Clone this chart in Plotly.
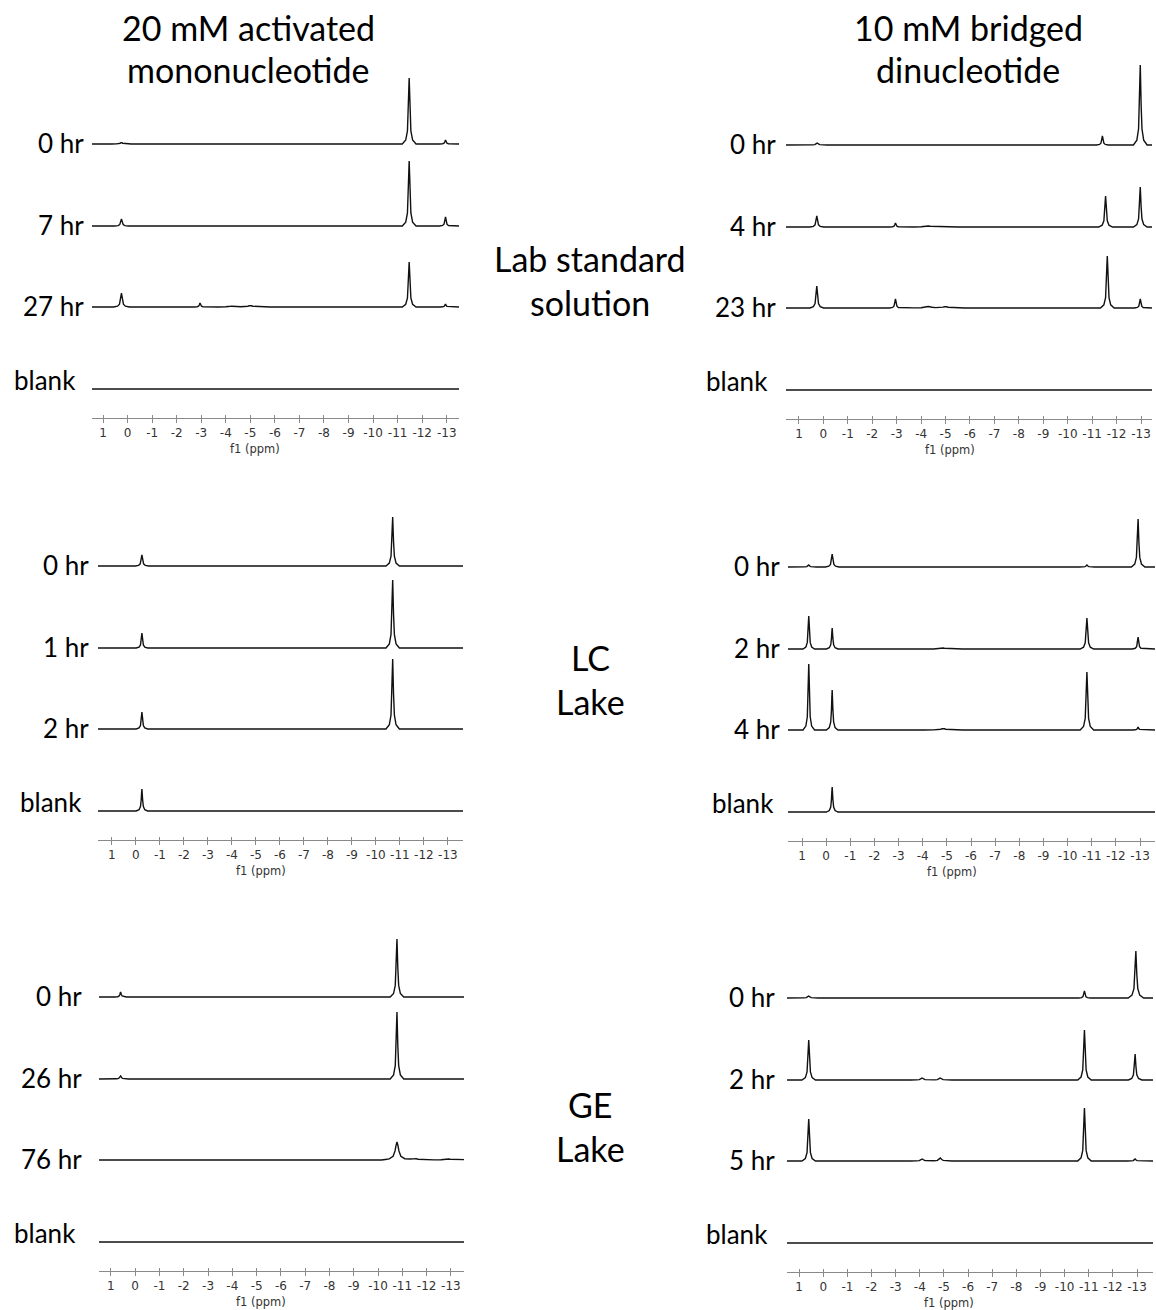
import numpy as np
import plotly.graph_objects as go

W, H = 1156, 1310

# ---------------- data (ppm, height, half-width) ----------------
lab_mono_labels = ["0 hr", "7 hr", "27 hr", "blank"]
lab_mono_peaks = [
    [(0.25, 1.5, 0.05), (-11.47, 66, 0.035), (-12.95, 4, 0.03)],
    [(0.25, 7, 0.035), (-11.47, 65, 0.035), (-12.95, 9, 0.03)],
    [(0.25, 14, 0.04), (-2.95, 4, 0.03), (-4.3, 1, 0.15), (-5.0, 1.5, 0.1), (-11.47, 45, 0.035), (-12.95, 3, 0.03)],
    [],
]
lab_di_labels = ["0 hr", "4 hr", "23 hr", "blank"]
lab_di_peaks = [
    [(0.25, 2, 0.05), (-11.42, 9, 0.03), (-12.97, 80, 0.035)],
    [(0.27, 11, 0.035), (-2.95, 4, 0.03), (-4.3, 1, 0.15), (-11.55, 31, 0.035), (-12.97, 40, 0.035)],
    [(0.27, 22, 0.035), (-2.95, 9, 0.03), (-4.3, 1.5, 0.15), (-5.0, 1.5, 0.1), (-11.62, 52, 0.035), (-12.97, 9, 0.03)],
    [],
]
lc_mono_labels = ["0 hr", "1 hr", "2 hr", "blank"]
lc_mono_peaks = [
    [(-0.25, 11, 0.035), (-10.7, 49, 0.035)],
    [(-0.25, 15, 0.03), (-10.7, 68, 0.035)],
    [(-0.25, 17, 0.03), (-10.7, 70, 0.035)],
    [(-0.25, 22, 0.03)],
]
lc_di_labels = ["0 hr", "2 hr", "4 hr", "blank"]
lc_di_peaks = [
    [(0.72, 2, 0.04), (-0.25, 13, 0.035), (-10.8, 2, 0.04), (-12.92, 48, 0.035)],
    [(0.72, 33, 0.03), (-0.25, 21, 0.03), (-4.85, 1, 0.1), (-10.8, 31, 0.035), (-12.92, 12, 0.03)],
    [(0.72, 66, 0.03), (-0.25, 40, 0.03), (-4.85, 1.5, 0.1), (-10.8, 58, 0.035), (-12.92, 3, 0.03)],
    [(-0.25, 25, 0.03)],
]
ge_mono_labels = ["0 hr", "26 hr", "76 hr", "blank"]
ge_mono_peaks = [
    [(0.6, 5, 0.03), (-10.78, 58, 0.035)],
    [(0.6, 3, 0.04), (-10.78, 67, 0.035)],
    [(-10.78, 18, 0.08), (-11.5, 1.5, 0.15), (-12.9, 1, 0.15)],
    [],
]
ge_di_labels = ["0 hr", "2 hr", "5 hr", "blank"]
ge_di_peaks = [
    [(0.6, 2, 0.05), (-10.82, 7, 0.03), (-12.95, 47, 0.04)],
    [(0.6, 40, 0.035), (-4.1, 2, 0.06), (-4.85, 2, 0.06), (-10.82, 50, 0.035), (-12.92, 26, 0.035)],
    [(0.6, 42, 0.035), (-4.1, 2, 0.06), (-4.85, 3, 0.06), (-10.82, 53, 0.035), (-12.92, 2, 0.04)],
    [],
]
tick_values = list(range(1, -14, -1))
tick_text = [str(v) for v in tick_values]

col_titles = [("20 mM activated", "mononucleotide"), ("10 mM bridged", "dinucleotide")]
row_titles = [("Lab standard", "solution"), ("LC", "Lake"), ("GE", "Lake")]

# ---------------- layout constants (pixels) ----------------
panels = [
    dict(labels=lab_mono_labels, peaks=lab_mono_peaks, px=(92, 459), axis_y=418, rng=(1.45, -13.5), lab_r=(86, 78)),
    dict(labels=lab_di_labels, peaks=lab_di_peaks, px=(786, 1152), axis_y=419, rng=(1.53, -13.45), lab_r=(778, 770)),
    dict(labels=lc_mono_labels, peaks=lc_mono_peaks, px=(98, 463), axis_y=840, rng=(1.58, -13.63), lab_r=(91, 84)),
    dict(labels=lc_di_labels, peaks=lc_di_peaks, px=(788, 1155), axis_y=841, rng=(1.58, -13.62), lab_r=(782, 776)),
    dict(labels=ge_mono_labels, peaks=ge_mono_peaks, px=(99, 464), axis_y=1271, rng=(1.49, -13.54), lab_r=(84, 78)),
    dict(labels=ge_di_labels, peaks=ge_di_peaks, px=(787, 1153), axis_y=1272, rng=(1.5, -13.66), lab_r=(777, 770)),
]
offsets = [274, 192, 111, 29]
YSPAN = 360
shape_u = [-8, -4, -2, -1, -0.5, 0, 0.5, 1, 2, 4, 8]
shape_f = [0.0, 0.06, 0.2, 0.5, 0.8, 1.0, 0.8, 0.5, 0.2, 0.06, 0.0]

TEXT_FONT = "Lato"
fig = go.Figure()
annotations = []
layout = {}

def spectrum(peaks, lo, hi):
    xs = {lo, hi}
    for (c, h, w) in peaks:
        for u in shape_u:
            xs.add(c + u * w)
    xs = np.array(sorted(xs))
    ys = np.zeros_like(xs)
    for (c, h, w) in peaks:
        px = c + np.array(shape_u) * w
        ys = ys + np.interp(xs, px, h * np.array(shape_f), left=0.0, right=0.0)
    return xs.tolist(), ys.tolist()

for i, p in enumerate(panels):
    n = i + 1
    xa = f"xaxis{n}"
    ya = f"yaxis{n}"
    xref = f"x{n}"
    yref = f"y{n}"
    dx = [p["px"][0] / W, p["px"][1] / W]
    dy = [1 - p["axis_y"] / H, 1 - (p["axis_y"] - YSPAN) / H]
    for k, pk in enumerate(p["peaks"]):
        xs, ys = spectrum(pk, min(p["rng"]), max(p["rng"]))
        fig.add_trace(go.Scatter(x=xs, y=[v + offsets[k] for v in ys], mode="lines",
                                 line=dict(color="#111", width=1.4), xaxis=xref, yaxis=yref,
                                 showlegend=False, hoverinfo="skip"))
    layout[xa] = dict(domain=dx, range=list(p["rng"]), anchor=yref, showgrid=False, zeroline=False,
                      showline=True, linecolor="#8a8a8a", linewidth=1,
                      ticks="outside", ticklen=4, tickcolor="#8a8a8a", tickwidth=1,
                      tickvals=tick_values, ticktext=tick_text,
                      tickfont=dict(family="DejaVu Sans", size=12, color="#333"))
    layout[ya] = dict(domain=dy, range=[0, YSPAN], anchor=xref, visible=False, fixedrange=True)
    # overlay axis for upward tick halves
    m = n + 6
    layout[f"xaxis{m}"] = dict(overlaying=xref, range=list(p["rng"]), anchor=yref, showgrid=False,
                               zeroline=False, showline=False, ticks="inside", ticklen=3,
                               tickcolor="#8a8a8a", tickwidth=1, tickvals=tick_values,
                               showticklabels=False, side="bottom")
    fig.add_trace(go.Scatter(x=[p["rng"][0]], y=[-10], mode="markers", marker=dict(opacity=0),
                             xaxis=f"x{m}", yaxis=yref, showlegend=False, hoverinfo="skip"))
    # f1 (ppm)
    annotations.append(dict(text="f1 (ppm)", x=-5.2, xref=xref, y=1 - (p["axis_y"] + 31) / H,
                            yref="paper", showarrow=False, xanchor="center", yanchor="middle",
                            font=dict(family="DejaVu Sans", size=11.5, color="#333")))
    # row labels
    for k, lab in enumerate(p["labels"]):
        base = p["axis_y"] - offsets[k]
        if lab == "blank":
            xr, yc = p["lab_r"][1], base - 9
        else:
            xr, yc = p["lab_r"][0], base - 1
        annotations.append(dict(text=lab, x=xr / W, xref="paper", y=1 - yc / H, yref="paper",
                                showarrow=False, xanchor="right", yanchor="middle",
                                font=dict(family=TEXT_FONT, size=26, color="black")))

# column titles
for (l1, l2), cx in zip(col_titles, [248, 968]):
    for txt, cy in [(l1, 27), (l2, 70)]:
        annotations.append(dict(text=txt, x=cx / W, xref="paper", y=1 - cy / H, yref="paper",
                                showarrow=False, xanchor="center", yanchor="middle",
                                font=dict(family=TEXT_FONT, size=34, color="black")))
# row titles
for (l1, l2), cy in zip(row_titles, [280, 679, 1126]):
    for txt, yy in [(l1, cy - 22), (l2, cy + 22)]:
        annotations.append(dict(text=txt, x=590 / W, xref="paper", y=1 - yy / H, yref="paper",
                                showarrow=False, xanchor="center", yanchor="middle",
                                font=dict(family=TEXT_FONT, size=34, color="black")))

fig.update_layout(width=W, height=H, margin=dict(l=0, r=0, t=0, b=0),
                  paper_bgcolor="white", plot_bgcolor="white", annotations=annotations, **layout)
fig.write_html("out.html")
